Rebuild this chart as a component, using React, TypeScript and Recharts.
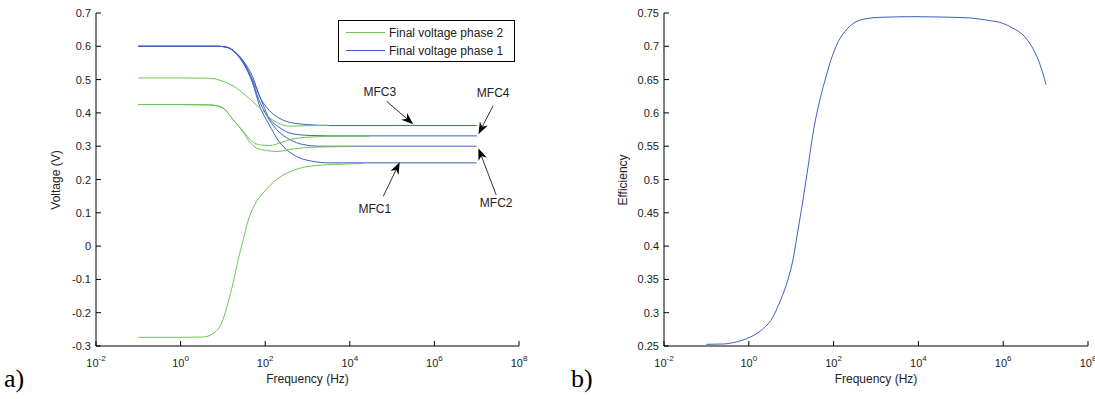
import React from 'react';
import { LineChart, Line, XAxis, YAxis, ReferenceLine, ReferenceDot } from 'recharts';

// ---------- axis ticks ----------
const FREQ_TICKS = [0.01, 1, 100, 1e4, 1e6, 1e8];
const FREQ_TICK_EXPONENTS = ['-2', '0', '2', '4', '6', '8'];
const VOLT_TICKS = [-0.3, -0.2, -0.1, 0, 0.1, 0.2, 0.3, 0.4, 0.5, 0.6, 0.7];
const VOLT_TICK_LABELS = ['-0.3', '-0.2', '-0.1', '0', '0.1', '0.2', '0.3', '0.4', '0.5', '0.6', '0.7'];
const EFF_TICKS = [0.25, 0.3, 0.35, 0.4, 0.45, 0.5, 0.55, 0.6, 0.65, 0.7, 0.75];
const EFF_TICK_LABELS = ['0.25', '0.3', '0.35', '0.4', '0.45', '0.5', '0.55', '0.6', '0.65', '0.7', '0.75'];

// ---------- series: [log10(frequency in Hz), value] ----------
// Final voltage phase 1 (blue)
const P1_MFC3: [number, number][] = [[-1, 0.6], [0, 0.6], [0.9, 0.6], [1.1, 0.597], [1.3, 0.582], [1.5, 0.553], [1.7, 0.51], [1.87, 0.45], [2.1, 0.407], [2.35, 0.383], [2.6, 0.371], [3.0, 0.365], [3.5, 0.362], [5, 0.362], [7, 0.362]];
const P1_MFC4: [number, number][] = [[-1, 0.6], [0, 0.6], [0.9, 0.6], [1.1, 0.597], [1.3, 0.581], [1.5, 0.55], [1.7, 0.5], [1.9, 0.44], [2.07, 0.39], [2.35, 0.355], [2.66, 0.337], [3.1, 0.332], [3.5, 0.331], [5, 0.331], [7, 0.331]];
const P1_MFC2: [number, number][] = [[-1, 0.6], [0, 0.6], [0.9, 0.6], [1.1, 0.597], [1.3, 0.58], [1.5, 0.548], [1.7, 0.495], [1.85, 0.44], [2.0, 0.4], [2.27, 0.35], [2.58, 0.32], [2.9, 0.305], [3.3, 0.3], [5, 0.3], [7, 0.3]];
const P1_MFC1: [number, number][] = [[-1, 0.6], [0, 0.6], [0.9, 0.6], [1.1, 0.597], [1.3, 0.579], [1.5, 0.545], [1.7, 0.49], [1.87, 0.42], [2.07, 0.37], [2.35, 0.31], [2.66, 0.275], [3.1, 0.255], [3.5, 0.25], [5, 0.25], [7, 0.25]];

// Final voltage phase 2 (green)
const P2_MFC3: [number, number][] = [[-1, 0.505], [0, 0.505], [0.7, 0.504], [1.0, 0.495], [1.32, 0.475], [1.56, 0.45], [1.87, 0.415], [2.11, 0.385], [2.35, 0.367], [2.58, 0.36], [2.82, 0.361], [3.48, 0.363]];
const P2_MFC4: [number, number][] = [[-1, 0.425], [0, 0.425], [0.7, 0.424], [1.0, 0.415], [1.24, 0.38], [1.48, 0.345], [1.68, 0.315], [1.87, 0.304], [2.11, 0.302], [2.35, 0.31], [2.66, 0.322], [3.13, 0.328], [3.77, 0.33], [4.46, 0.33]];
const P2_MFC2: [number, number][] = [[-1, 0.425], [0, 0.425], [0.7, 0.424], [1.0, 0.415], [1.24, 0.38], [1.48, 0.342], [1.65, 0.31], [1.79, 0.295], [2.03, 0.287], [2.27, 0.284], [2.58, 0.29], [2.98, 0.296], [3.45, 0.298], [3.99, 0.299]];
const P2_MFC1: [number, number][] = [[-1, -0.274], [0, -0.274], [0.53, -0.273], [0.81, -0.259], [1.0, -0.221], [1.12, -0.171], [1.24, -0.111], [1.36, -0.041], [1.48, 0.019], [1.59, 0.074], [1.75, 0.124], [1.95, 0.159], [2.27, 0.2], [2.66, 0.227], [3.06, 0.24], [3.61, 0.245], [4.32, 0.248]];

// Efficiency (right panel)
const EFFICIENCY: [number, number][] = [[-1, 0.2525], [-0.6, 0.253], [-0.27, 0.2565], [-0.03, 0.2615], [0.3, 0.274], [0.55, 0.2915], [0.75, 0.319], [0.92, 0.349], [1.04, 0.379], [1.16, 0.424], [1.29, 0.474], [1.41, 0.5245], [1.53, 0.575], [1.66, 0.615], [1.78, 0.645], [1.94, 0.68], [2.11, 0.707], [2.27, 0.7225], [2.48, 0.735], [2.77, 0.7415], [3.09, 0.7435], [3.92, 0.7445], [4.49, 0.744], [5.23, 0.7425], [5.64, 0.739], [5.97, 0.735], [6.22, 0.7275], [6.5, 0.715], [6.67, 0.7], [6.87, 0.6725], [7.01, 0.6425]];

// annotations: label, text position [log10 f, V], arrow tail, arrow tip
const ANNOT_LABELS = ['MFC3', 'MFC4', 'MFC1', 'MFC2'];
const ANNOT_TEXT: [number, number][] = [[4.71, 0.462], [7.39, 0.46], [4.59, 0.111], [7.46, 0.129]];
const ANNOT_TAIL: [number, number][] = [[4.87, 0.435], [7.39, 0.422], [4.79, 0.149], [7.46, 0.154]];
const ANNOT_TIP: [number, number][] = [[5.5, 0.366], [7.04, 0.336], [5.18, 0.252], [7.04, 0.294]];

const LEGEND_LABELS = ['Final voltage phase 2', 'Final voltage phase 1'];

const GREEN = '#6cc653';
const BLUE = '#3f5fc0';
const FONT = '"Liberation Sans", Arial, Helvetica, sans-serif';
const TXT = '#222';

const toRows = (pts: [number, number][]) => pts.map(([e, v]) => ({ f: Math.pow(10, e), v }));

const BottomTick = (props: any) => {
  const { x, y, index } = props;
  return (
    <g>
      <line x1={x} x2={x} y1={y} y2={y - 5} stroke="#000" />
      <text x={x} y={y + 20.5} textAnchor="middle" fontSize={11} fill={TXT} fontFamily={FONT}>
        10<tspan dy={-6} fontSize={8}>{FREQ_TICK_EXPONENTS[index]}</tspan>
      </text>
    </g>
  );
};
const TopTick = (props: any) => {
  const { x, y } = props;
  return <line x1={x} x2={x} y1={y} y2={y + 5} stroke="#000" />;
};
const makeLeftTick = (labels: string[]) => (props: any) => {
  const { x, y, index } = props;
  return (
    <g>
      <line x1={x} x2={x + 5} y1={y} y2={y} stroke="#000" />
      <text x={x - 5} y={y + 4} textAnchor="end" fontSize={11} fill={TXT} fontFamily={FONT}>
        {labels[index]}
      </text>
    </g>
  );
};
const RightTick = (props: any) => {
  const { x, y } = props;
  return <line x1={x} x2={x - 5} y1={y} y2={y} stroke="#000" />;
};

const Arrow = (p: any) => {
  const { x1, y1, x2, y2 } = p;
  const dx = x2 - x1;
  const dy = y2 - y1;
  const len = Math.hypot(dx, dy) || 1;
  const ux = dx / len;
  const uy = dy / len;
  const nx = -uy;
  const ny = ux;
  const hl = 12;
  const hw = 4.5;
  const bx = x2 - ux * hl;
  const by = y2 - uy * hl;
  const mx = x2 - ux * hl * 0.7;
  const my = y2 - uy * hl * 0.7;
  return (
    <g>
      <line x1={x1} y1={y1} x2={mx} y2={my} stroke="#333" strokeWidth={1} />
      <polygon
        points={`${x2},${y2} ${bx + nx * hw},${by + ny * hw} ${mx},${my} ${bx - nx * hw},${by - ny * hw}`}
        fill="#000"
      />
    </g>
  );
};

const axisCommon = {
  type: 'number' as const,
  scale: 'log' as const,
  domain: [0.01, 1e8],
  ticks: FREQ_TICKS,
  allowDataOverflow: true,
  interval: 0 as const,
  tickSize: 0,
  tickMargin: 0,
  tickLine: false,
  axisLine: { stroke: '#000' },
};

export default function App() {
  const blue = [P1_MFC3, P1_MFC4, P1_MFC2, P1_MFC1];
  const green = [P2_MFC3, P2_MFC4, P2_MFC2, P2_MFC1];
  return (
    <div style={{ position: 'absolute', left: 0, top: 0, width: 1095, height: 399, background: '#fff', overflow: 'hidden' }}>
      <div style={{ position: 'absolute', left: 0, top: 0 }}>
        <LineChart width={540} height={399} margin={{ top: 13, right: 21, bottom: 0, left: 0 }}>
          <XAxis {...axisCommon} dataKey="f" xAxisId={0} orientation="bottom" height={53} tick={<BottomTick />} />
          <XAxis {...axisCommon} dataKey="f" xAxisId="top" orientation="top" height={0} tick={<TopTick />} />
          <YAxis
            type="number"
            domain={[-0.3, 0.7]}
            ticks={VOLT_TICKS}
            interval={0}
            allowDataOverflow
            width={96}
            tickSize={0}
            tickMargin={0}
            tickLine={false}
            axisLine={{ stroke: '#000' }}
            tick={makeLeftTick(VOLT_TICK_LABELS)}
            yAxisId={0}
          />
          <YAxis
            type="number"
            domain={[-0.3, 0.7]}
            ticks={VOLT_TICKS}
            interval={0}
            allowDataOverflow
            width={0}
            orientation="right"
            tickSize={0}
            tickMargin={0}
            tickLine={false}
            axisLine={{ stroke: '#000' }}
            tick={<RightTick />}
            yAxisId="r"
          />
          {blue.map((s, i) => (
            <Line key={'b' + i} data={toRows(s)} dataKey="v" type="monotone" stroke={BLUE} strokeWidth={1} dot={false} activeDot={false} isAnimationActive={false} />
          ))}
          {green.map((s, i) => (
            <Line key={'g' + i} data={toRows(s)} dataKey="v" type="monotone" stroke={GREEN} strokeWidth={1} dot={false} activeDot={false} isAnimationActive={false} />
          ))}
          {ANNOT_LABELS.map((lab, i) => (
            <ReferenceLine
              key={'a' + i}
              segment={[
                { x: Math.pow(10, ANNOT_TAIL[i][0]), y: ANNOT_TAIL[i][1] },
                { x: Math.pow(10, ANNOT_TIP[i][0]), y: ANNOT_TIP[i][1] },
              ]}
              shape={(p: any) => <Arrow {...p} />}
            />
          ))}
          {ANNOT_LABELS.map((lab, i) => (
            <ReferenceDot
              key={'t' + i}
              x={Math.pow(10, ANNOT_TEXT[i][0])}
              y={ANNOT_TEXT[i][1]}
              r={0}
              shape={(p: any) => (
                <text x={p.cx} y={p.cy + 4} textAnchor="middle" fontSize={12} fill={TXT} fontFamily={FONT}>
                  {lab}
                </text>
              )}
            />
          ))}
        </LineChart>
      </div>

      <div style={{ position: 'absolute', left: 560, top: 0 }}>
        <LineChart width={535} height={399} margin={{ top: 13, right: 7, bottom: 0, left: 0 }}>
          <XAxis {...axisCommon} dataKey="f" xAxisId={0} orientation="bottom" height={53} tick={<BottomTick />} />
          <XAxis {...axisCommon} dataKey="f" xAxisId="top" orientation="top" height={0} tick={<TopTick />} />
          <YAxis
            type="number"
            domain={[0.25, 0.75]}
            ticks={EFF_TICKS}
            interval={0}
            allowDataOverflow
            width={104}
            tickSize={0}
            tickMargin={0}
            tickLine={false}
            axisLine={{ stroke: '#000' }}
            tick={makeLeftTick(EFF_TICK_LABELS)}
            yAxisId={0}
          />
          <YAxis
            type="number"
            domain={[0.25, 0.75]}
            ticks={EFF_TICKS}
            interval={0}
            allowDataOverflow
            width={0}
            orientation="right"
            tickSize={0}
            tickMargin={0}
            tickLine={false}
            axisLine={{ stroke: '#000' }}
            tick={<RightTick />}
            yAxisId="r"
          />
          <Line data={toRows(EFFICIENCY)} dataKey="v" type="monotone" stroke={BLUE} strokeWidth={1} dot={false} activeDot={false} isAnimationActive={false} />
        </LineChart>
      </div>

      <svg style={{ position: 'absolute', left: 0, top: 0, pointerEvents: 'none' }} width={1095} height={399}>
        <text x={4} y={387} fontFamily='"Liberation Serif", "Times New Roman", serif' fontSize={26} fill="#000">a)</text>
        <text x={571} y={387} fontFamily='"Liberation Serif", "Times New Roman", serif' fontSize={26} fill="#000">b)</text>
        <text x={307.5} y={383} textAnchor="middle" fontSize={12} fill={TXT} fontFamily={FONT}>Frequency (Hz)</text>
        <text x={876} y={383} textAnchor="middle" fontSize={12} fill={TXT} fontFamily={FONT}>Frequency (Hz)</text>
        <text x={60} y={180} textAnchor="middle" fontSize={12} fill={TXT} fontFamily={FONT} transform="rotate(-90 60 180)">Voltage (V)</text>
        <text x={627} y={180} textAnchor="middle" fontSize={12} fill={TXT} fontFamily={FONT} transform="rotate(-90 627 180)">Efficiency</text>
        <rect x={338.5} y={20.5} width={176} height={41} fill="#fff" stroke="#000" />
        <line x1={346} x2={385} y1={32.5} y2={32.5} stroke={GREEN} />
        <line x1={346} x2={385} y1={50.5} y2={50.5} stroke={BLUE} />
        <text x={389} y={36.5} fontSize={12} fill={TXT} fontFamily={FONT}>{LEGEND_LABELS[0]}</text>
        <text x={389} y={54.5} fontSize={12} fill={TXT} fontFamily={FONT}>{LEGEND_LABELS[1]}</text>
      </svg>
    </div>
  );
}
